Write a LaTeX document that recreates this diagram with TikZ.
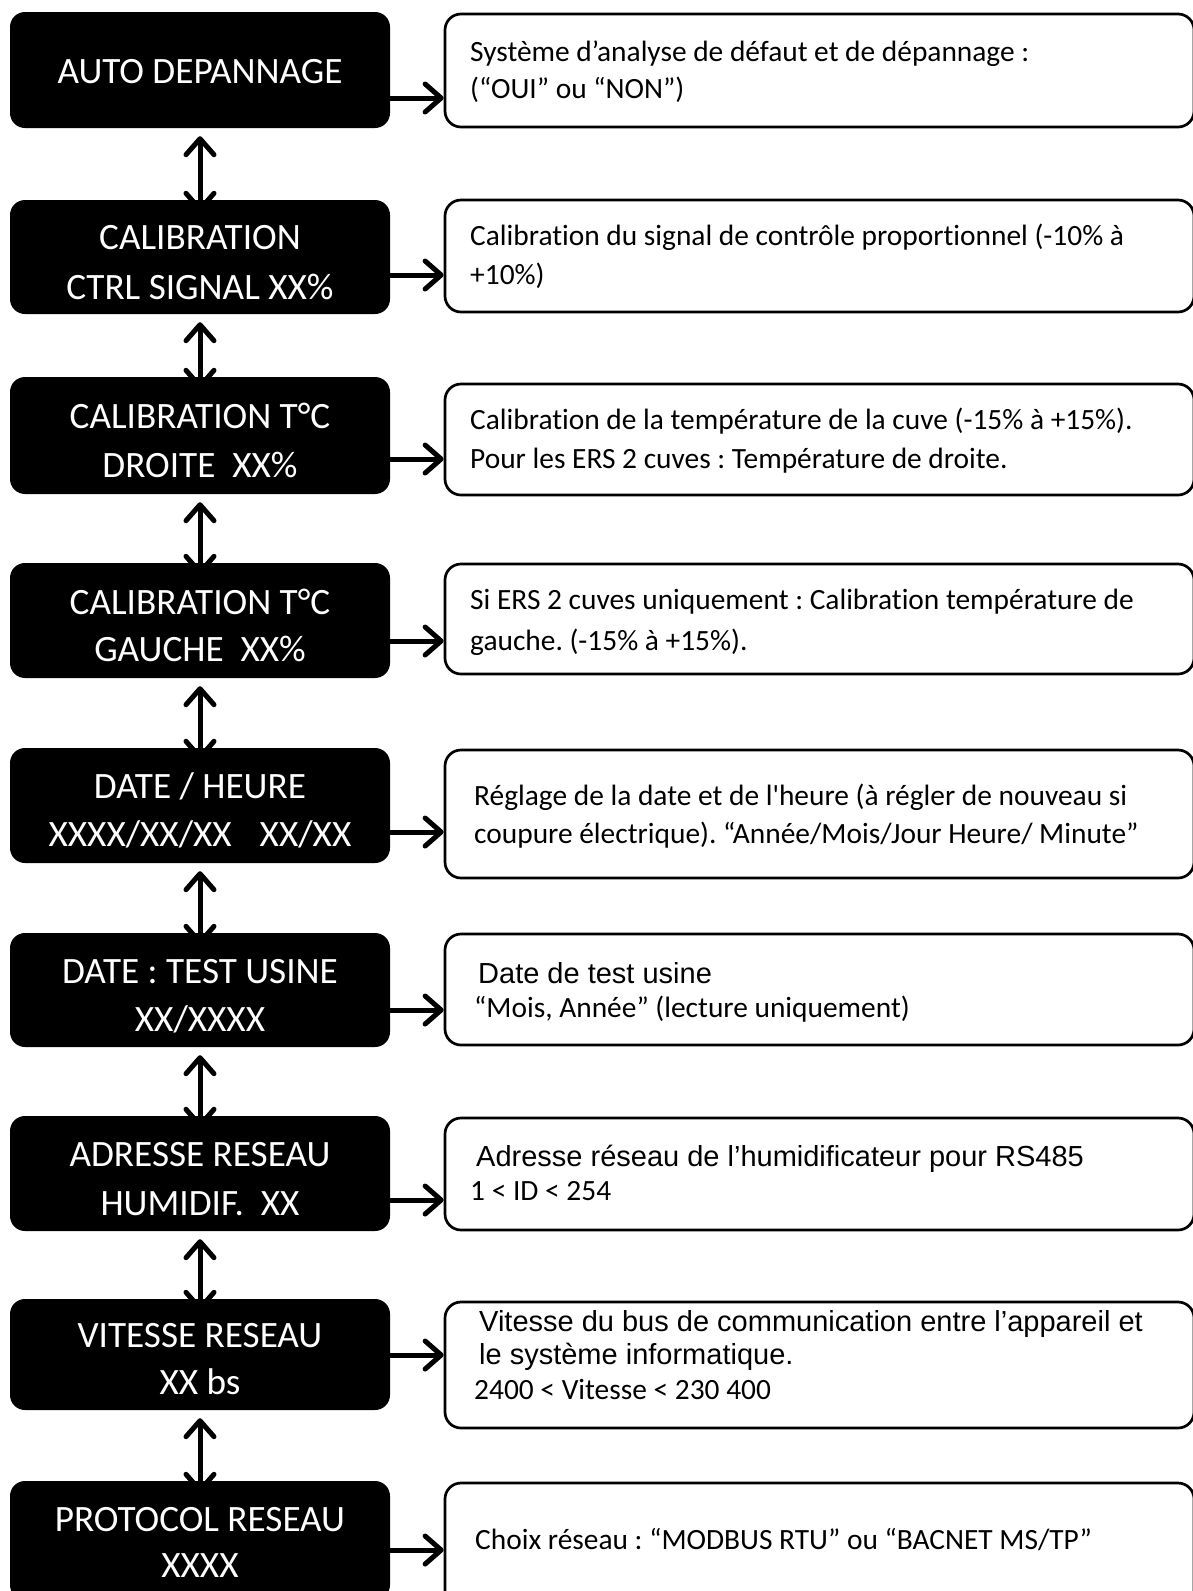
\documentclass[tikz,border=0pt]{standalone}
\usepackage{fontspec}
\setmainfont{Carlito}[Ligatures={NoCommon}]
\newfontfamily\arialf{Liberation Sans}
\usetikzlibrary{arrows.meta,backgrounds}
\frenchspacing
\tikzset{
  blk/.style={fill=black, draw=none, rounded corners=15pt, minimum width=380pt, inner sep=0pt},
  wht/.style={draw=black, line width=2.7pt, fill=white, rounded corners=16pt, minimum width=749pt, inner sep=0pt},
  btxt/.style={text=white, font=\fontsize{37.2}{44}\selectfont, anchor=base, inner sep=0pt},
  wtxt/.style={font=\fontsize{29.4}{35}\selectfont, anchor=base west, inner sep=0pt},
  atxt/.style={font=\arialf\fontsize{29}{35}\selectfont, anchor=base west, inner sep=0pt},
  barb/.tip={Straight Barb[length=16pt,width=28pt,round]},
  rarr/.style={line width=5pt, -barb},
  varr/.style={line width=5pt, barb-barb}
}
\begin{document}
\begin{tikzpicture}[x=1pt,y=-1pt]
\useasboundingbox (0,0) rectangle (1192,1591);
% black boxes
\node[blk, minimum height=116pt] (b1) at (200,70) {};
\node[blk, minimum height=114pt] (b2) at (200,257) {};
\node[blk, minimum height=117pt] (b3) at (200,435.5) {};
\node[blk, minimum height=115pt] (b4) at (200,620.5) {};
\node[blk, minimum height=115pt] (b5) at (200,805.5) {};
\node[blk, minimum height=114pt] (b6) at (200,990) {};
\node[blk, minimum height=115pt] (b7) at (200,1173.5) {};
\node[blk, minimum height=111pt] (b8) at (200,1354.5) {};
\node[blk, minimum height=119pt] (b9) at (200,1540.5) {};
% black box texts
\node[btxt] (b1t) at (200,83) {AUTO DEPANNAGE};
\node[btxt] (b2t) at (200,249) {CALIBRATION};
\node[btxt] (b2u) at (200,299) {CTRL SIGNAL XX\%};
\node[btxt] (b3t) at (200,428) {CALIBRATION T°C};
\node[btxt] (b3u) at (200,477) {DROITE\ \ XX\%};
\node[btxt] (b4t) at (200,614) {CALIBRATION T°C};
\node[btxt] (b4u) at (200,661) {GAUCHE\ \ XX\%};
\node[btxt] (b5t) at (200,798) {DATE / HEURE};
\node[btxt] (b5u) at (200,846) {XXXX/XX/XX\hspace{28pt}XX/XX};
\node[btxt] (b6t) at (200,983) {DATE : TEST USINE};
\node[btxt] (b6u) at (200,1031) {XX/XXXX};
\node[btxt] (b7t) at (200,1166) {ADRESSE RESEAU};
\node[btxt] (b7u) at (200,1215) {HUMIDIF.\ \ XX};
\node[btxt] (b8t) at (200,1347) {VITESSE RESEAU};
\node[btxt] (b8u) at (200,1394) {XX bs};
\node[btxt] (b9t) at (200,1531) {PROTOCOL RESEAU};
\node[btxt] (b9u) at (200,1577) {XXXX};
% white boxes
\node[wht, minimum height=113pt] (w1) at (819.5,70.5) {};
\node[wht, minimum height=112pt] (w2) at (819.5,256) {};
\node[wht, minimum height=111pt] (w3) at (819.5,439.5) {};
\node[wht, minimum height=110pt] (w4) at (819.5,619) {};
\node[wht, minimum height=128pt] (w5) at (819.5,814) {};
\node[wht, minimum height=111pt] (w6) at (819.5,989.5) {};
\node[wht, minimum height=112pt] (w7) at (819.5,1174) {};
\node[wht, minimum height=126pt] (w8) at (819.5,1365) {};
\node[wht, minimum height=127pt] (w9) at (819.5,1546.5) {};
% white box texts
\node[wtxt] (w1a) at (470,61) {Système d’analyse de défaut et de dépannage :};
\node[wtxt] (w1b) at (470,98) {(“OUI” ou “NON”)};
\node[wtxt] (w2a) at (470,245) {Calibration du signal de contrôle proportionnel (-10\% à};
\node[wtxt] (w2b) at (470,284) {+10\%)};
\node[wtxt] (w3a) at (470,429) {Calibration de la température de la cuve (-15\% à +15\%).};
\node[wtxt] (w3b) at (470,468) {Pour les ERS 2 cuves : Température de droite.};
\node[wtxt] (w4a) at (470,609) {Si ERS 2 cuves uniquement : Calibration température de};
\node[wtxt] (w4b) at (470,650) {gauche. (-15\% à +15\%).};
\node[wtxt] (w5a) at (474,805) {Réglage de la date et de l\textquotesingle heure (à régler de nouveau si};
\node[wtxt] (w5b) at (474,843) {coupure électrique). “Année/Mois/Jour Heure/ Minute”};
\node[atxt] (w6a) at (478,983) {Date de test usine};
\node[wtxt] (w6b) at (474,1017) {“Mois, Année” (lecture uniquement)};
\node[atxt] (w7a) at (476,1166) {Adresse réseau de l’humidificateur pour RS485};
\node[wtxt] (w7b) at (470,1200) {1 \textless{} ID \textless{} 254};
\node[atxt] (w8a) at (479,1331) {Vitesse du bus de communication entre l’appareil et};
\node[atxt] (w8b) at (479,1364) {le système informatique.};
\node[wtxt] (w8c) at (474,1399) {2400 \textless{} Vitesse \textless{} 230 400};
\node[wtxt] (w9a) at (475,1549) {Choix réseau : “MODBUS RTU” ou “BACNET MS/TP”};
% arrow heights
\coordinate (r1) at (0,98);
\coordinate (r2) at (0,275);
\coordinate (r3) at (0,459);
\coordinate (r4) at (0,641);
\coordinate (r5) at (0,832);
\coordinate (r6) at (0,1010);
\coordinate (r7) at (0,1200);
\coordinate (r8) at (0,1355);
\coordinate (r9) at (0,1550);
\foreach \i in {1,...,9}{
  \draw[rarr] (b\i.east |- r\i) -- (w\i.west |- r\i);
}
\begin{pgfonlayer}{background}
\fill[white] (0,0) rectangle (1192,1591);
\foreach \i/\j in {1/2,2/3,3/4,4/5,5/6,6/7,7/8,8/9}{
  \draw[varr] ([yshift=-8pt]b\i.south) -- ([yshift=-12pt]b\j.north);
}
\end{pgfonlayer}
\end{tikzpicture}
\end{document}
